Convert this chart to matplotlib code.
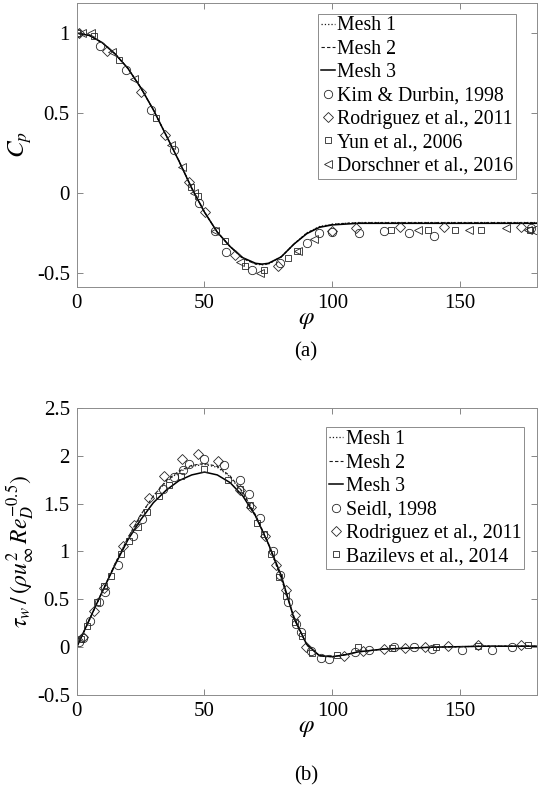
import matplotlib
matplotlib.use("Agg")
import matplotlib.pyplot as plt

plt.rcParams['font.family'] = ['Liberation Serif', 'STIXGeneral', 'DejaVu Serif']
plt.rcParams['mathtext.fontset'] = 'stix'

# ---------------- (a) pressure coefficient ----------------
phi_cp = [0, 5, 10, 15, 20, 25, 30, 35, 40, 45, 50, 55, 60, 65, 70, 72.5, 75, 80, 85, 90, 95, 100,
          105, 110, 120, 130, 140, 150, 160, 170, 180]
cp_mesh1 = [1.00, 0.985, 0.94, 0.87, 0.78, 0.66, 0.52, 0.36, 0.20, 0.03, -0.12, -0.245, -0.335,
            -0.41, -0.445, -0.45, -0.445, -0.40, -0.32, -0.25, -0.21, -0.195, -0.19, -0.185,
            -0.185, -0.185, -0.185, -0.185, -0.185, -0.185, -0.185]
cp_mesh2 = [1.00, 0.985, 0.94, 0.87, 0.78, 0.66, 0.52, 0.36, 0.20, 0.03, -0.12, -0.245, -0.335,
            -0.41, -0.445, -0.448, -0.443, -0.40, -0.32, -0.252, -0.212, -0.197, -0.19, -0.187,
            -0.186, -0.186, -0.186, -0.186, -0.186, -0.186, -0.186]
cp_mesh3 = [1.00, 0.985, 0.94, 0.87, 0.78, 0.66, 0.52, 0.36, 0.20, 0.03, -0.12, -0.245, -0.335,
            -0.405, -0.44, -0.445, -0.44, -0.40, -0.32, -0.255, -0.215, -0.20, -0.195, -0.19,
            -0.19, -0.19, -0.19, -0.19, -0.19, -0.19, -0.19]

kim_phi = [0, 9, 19.3, 29, 38, 48, 54, 58.5, 68.6, 79.7, 90.2, 94.8, 100, 110.4, 120.3, 130,
           139.9, 177.8, 180]
kim_cp = [1.0, 0.92, 0.77, 0.52, 0.27, -0.06, -0.24, -0.37, -0.48, -0.44, -0.31, -0.25, -0.245,
          -0.25, -0.235, -0.25, -0.27, -0.22, -0.23]
rod_phi = [1, 12, 25, 34.7, 44.1, 50.3, 62, 78.7, 100, 109.1, 126.5, 143.8, 173.9]
rod_cp = [1.0, 0.89, 0.63, 0.36, 0.07, -0.12, -0.39, -0.46, -0.24, -0.22, -0.21, -0.21, -0.21]
yun_phi = [0, 6.8, 16.6, 31, 44.7, 47.4, 58.1, 66, 73.2, 82.6, 86.3, 122.9, 137.3, 148, 158.2,
           177.2]
yun_cp = [1.0, 0.98, 0.83, 0.47, 0.04, -0.02, -0.30, -0.46, -0.48, -0.41, -0.36, -0.23, -0.23,
          -0.23, -0.23, -0.23]
dor_phi = [2, 5.5, 14, 22.5, 36.9, 41.2, 45.7, 54.2, 64, 71.9, 86.5, 92.8, 133.6, 153.6, 168,
           176.5]
dor_cp = [1.0, 1.0, 0.88, 0.71, 0.30, 0.16, 0.0, -0.24, -0.43, -0.50, -0.36, -0.29, -0.23, -0.23,
          -0.22, -0.23]

# ---------------- (b) wall shear stress ----------------
phi_tau = [0, 5, 10, 15, 20, 25, 30, 35, 40, 45, 50, 55, 60, 65, 70, 75, 80, 85, 90, 95, 100,
           105, 110, 120, 130, 140, 150, 160, 170, 180]
tau_mesh1 = [0.0, 0.29, 0.58, 0.87, 1.14, 1.38, 1.58, 1.73, 1.83, 1.89, 1.91, 1.88, 1.78, 1.61,
             1.37, 1.08, 0.72, 0.32, 0.02, -0.09, -0.10, -0.08, -0.05, -0.02, -0.01, 0.0, 0.005,
             0.01, 0.01, 0.01]
tau_mesh2 = [0.0, 0.29, 0.58, 0.87, 1.14, 1.38, 1.58, 1.74, 1.84, 1.90, 1.92, 1.89, 1.79, 1.62,
             1.38, 1.08, 0.72, 0.32, 0.02, -0.09, -0.10, -0.08, -0.05, -0.02, -0.01, 0.0, 0.005,
             0.01, 0.01, 0.01]
tau_mesh3 = [0.0, 0.29, 0.58, 0.86, 1.12, 1.33, 1.51, 1.64, 1.74, 1.80, 1.83, 1.80, 1.72, 1.58,
             1.37, 1.08, 0.75, 0.30, 0.03, -0.09, -0.10, -0.08, -0.05, -0.02, -0.01, 0.0, 0.005,
             0.01, 0.01, 0.01]

seidl_phi = [1, 2.5, 5.2, 8.8, 11.1, 16, 22.1, 25.5, 33.9, 38.2, 41.5, 44.1, 50, 57.6, 63.7,
             67.4, 71.6, 76.8, 79.7, 82.7, 86, 87.6, 91.5, 95.7, 98.7, 108.7, 114.4, 124.2,
             132.1, 139.2, 150.6, 162.4, 170.2]
seidl_tau = [0.05, 0.10, 0.27, 0.47, 0.58, 0.86, 1.16, 1.34, 1.65, 1.78, 1.85, 1.91, 1.97, 1.90,
             1.75, 1.60, 1.35, 1.00, 0.75, 0.47, 0.24, 0.16, -0.04, -0.11, -0.12, -0.05, -0.03,
             0.0, 0.0, -0.02, -0.03, -0.03, 0.0]
rodb_phi = [2.3, 6.8, 10.8, 18, 22.5, 28.2, 34.1, 41.2, 47.4, 55.3, 64, 68.3, 73.5, 77.9, 81.8,
            85.3, 89.9, 104.6, 112.2, 120.3, 128.4, 136.2, 145.1, 156.9, 173.9]
rodb_tau = [0.11, 0.38, 0.62, 1.06, 1.28, 1.56, 1.79, 1.97, 2.02, 1.95, 1.64, 1.46, 1.16, 0.86,
            0.60, 0.34, 0.0, -0.09, -0.04, -0.02, -0.01, 0.0, 0.01, 0.02, 0.02]
baz_phi = [1.8, 4.2, 8, 10.8, 13.4, 17.3, 20.6, 23.8, 27.4, 32.3, 36.3, 40.9, 49.8, 59.2, 64,
           67.7, 70.7, 73.3, 76.2, 79.2, 82, 85.3, 88, 91.9, 101.7, 110, 123.5, 140.5, 156.9,
           176.5]
baz_tau = [0.08, 0.22, 0.47, 0.64, 0.74, 0.97, 1.11, 1.26, 1.41, 1.58, 1.69, 1.79, 1.86, 1.75,
           1.65, 1.49, 1.30, 1.18, 0.97, 0.73, 0.53, 0.26, 0.12, -0.06, -0.08, 0.0, -0.01, 0.0,
           0.01, 0.02]

fig = plt.figure(figsize=(5.48, 7.96), dpi=100)
ax1 = fig.add_axes([0.140, 0.6391, 0.8394, 0.3575])
ax2 = fig.add_axes([0.140, 0.1269, 0.8394, 0.3606])

mk = dict(linestyle='none', markerfacecolor='none', markeredgecolor='0.15',
          markeredgewidth=0.6, markersize=6)
mk_d = {**mk, 'markersize': 5.2}
mk_s = {**mk, 'markersize': 5.0}


def draw_lines(ax, x, y1, y2, y3):
    ax.plot(x, y1, linestyle=':', color='0.1', lw=0.9, label='Mesh 1')
    ax.plot(x, y2, linestyle=(0, (3, 2)), color='0.1', lw=0.8, label='Mesh 2')
    ax.plot(x, y3, linestyle='-', color='0.0', lw=1.1, label='Mesh 3')


def style(ax, ylim, yticks, yticklabels):
    ax.set_xlim(0, 180)
    ax.set_ylim(*ylim)
    ax.set_xticks([0, 50, 100, 150])
    ax.set_yticks(yticks)
    ax.set_yticklabels(yticklabels)
    ax.tick_params(direction='in', top=True, right=True, length=4, width=0.6,
                   color='0.45', labelsize=15, pad=5)
    for s in ax.spines.values():
        s.set_color('0.55')
        s.set_linewidth(0.7)
    ax.set_xlabel(r'$\varphi$', fontsize=18, labelpad=-3)


legkw = dict(loc='upper right', borderaxespad=0, fontsize=14.3, handlelength=0.7,
             handletextpad=0.12, labelspacing=0.22, borderpad=0.15, fancybox=False,
             framealpha=1, edgecolor='0.55')

# (a)
draw_lines(ax1, phi_cp, cp_mesh1, cp_mesh2, cp_mesh3)
ax1.plot(kim_phi, kim_cp, marker='o', label='Kim & Durbin, 1998', **mk)
ax1.plot(rod_phi, rod_cp, marker='D', label='Rodriguez et al., 2011', **mk_d)
ax1.plot(yun_phi, yun_cp, marker='s', label='Yun et al., 2006', **mk_s)
ax1.plot(dor_phi, dor_cp, marker='<', label='Dorschner et al., 2016', **mk)
style(ax1, (-0.59, 1.19), [-0.5, 0, 0.5, 1], ['-0.5', '0', '0.5', '1'])
ax1.set_ylabel(r'$C_p$', fontsize=18, labelpad=2)
leg1 = ax1.legend(bbox_to_anchor=(0.955, 0.962), **legkw)
leg1.get_frame().set_linewidth(0.7)

# (b)
draw_lines(ax2, phi_tau, tau_mesh1, tau_mesh2, tau_mesh3)
ax2.plot(seidl_phi, seidl_tau, marker='o', label='Seidl, 1998', **mk)
ax2.plot(rodb_phi, rodb_tau, marker='D', label='Rodriguez et al., 2011', **mk_d)
ax2.plot(baz_phi, baz_tau, marker='s', label='Bazilevs et al., 2014', **mk_s)
style(ax2, (-0.5, 2.5), [-0.5, 0, 0.5, 1, 1.5, 2, 2.5],
      ['-0.5', '0', '0.5', '1', '1.5', '2', '2.5'])
ax2.set_ylabel(r'$\tau_w\,/\,(\rho u_\infty^2\, Re_D^{-0.5})$', fontsize=17, labelpad=0)
leg2 = ax2.legend(bbox_to_anchor=(0.973, 0.932), **legkw)
leg2.get_frame().set_linewidth(0.7)

fig.text(306 / 548, 1 - 352 / 796, '(a)', ha='center', va='center', fontsize=15)
fig.text(306 / 548, 1 - 776 / 796, '(b)', ha='center', va='center', fontsize=15)

fig.savefig('out.png', dpi=100)
